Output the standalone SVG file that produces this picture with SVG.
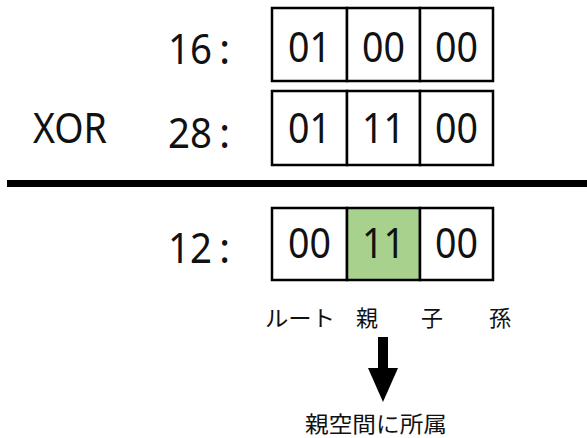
<svg xmlns="http://www.w3.org/2000/svg" width="587" height="438" viewBox="0 0 587 438">
<style>
.cell{fill:#fff;stroke:#000;stroke-width:2.5}
.g{fill:#A9D18E}
.num{font-family:"Noto Sans","Liberation Sans",sans-serif;font-size:42px;fill:#111;text-anchor:middle}
.lbl{font-family:"Noto Sans","Liberation Sans",sans-serif;font-size:42px;fill:#111}
.jp{font-family:"Noto Sans CJK JP",sans-serif;font-size:22px;fill:#111}
</style>
<rect width="587" height="438" fill="#fff"/>
<g id="row16">
<text class="lbl"><tspan x="168" y="64" textLength="44" lengthAdjust="spacingAndGlyphs">16</tspan><tspan x="219" y="64">:</tspan></text>
<rect class="cell" x="272" y="8" width="75" height="73"/>
<rect class="cell" x="347" y="8" width="73" height="73"/>
<rect class="cell" x="420" y="8" width="73" height="73"/>
<text class="num" x="309.5" y="62" textLength="43" lengthAdjust="spacingAndGlyphs">01</text>
<text class="num" x="383.5" y="62" textLength="43" lengthAdjust="spacingAndGlyphs">00</text>
<text class="num" x="456.5" y="62" textLength="43" lengthAdjust="spacingAndGlyphs">00</text>
</g>
<g id="row28">
<text class="lbl" x="33" y="143" textLength="74" lengthAdjust="spacingAndGlyphs" font-size="39">XOR</text>
<text class="lbl"><tspan x="168" y="148" textLength="44" lengthAdjust="spacingAndGlyphs">28</tspan><tspan x="219" y="148">:</tspan></text>
<rect class="cell" x="272" y="91" width="75" height="74"/>
<rect class="cell" x="347" y="91" width="73" height="74"/>
<rect class="cell" x="420" y="91" width="73" height="74"/>
<text class="num" x="309.5" y="143" textLength="43" lengthAdjust="spacingAndGlyphs">01</text>
<text class="num" x="383.5" y="143" textLength="43" lengthAdjust="spacingAndGlyphs">11</text>
<text class="num" x="456.5" y="143" textLength="43" lengthAdjust="spacingAndGlyphs">00</text>
</g>
<g id="connectors">
<rect x="7" y="180" width="580" height="7" fill="#000"/>
<rect x="378" y="337" width="10" height="32" fill="#000"/>
<polygon points="368,368 398,368 383,402" fill="#000"/>
</g>
<g id="row12">
<text class="lbl"><tspan x="168" y="263" textLength="44" lengthAdjust="spacingAndGlyphs">12</tspan><tspan x="219" y="263">:</tspan></text>
<rect class="cell" x="272" y="208" width="75" height="72"/>
<rect class="cell g" x="347" y="208" width="73" height="72"/>
<rect class="cell" x="420" y="208" width="73" height="72"/>
<text class="num" x="309.5" y="258" textLength="43" lengthAdjust="spacingAndGlyphs">00</text>
<text class="num" x="383.5" y="258" textLength="43" lengthAdjust="spacingAndGlyphs">11</text>
<text class="num" x="456.5" y="258" textLength="43" lengthAdjust="spacingAndGlyphs">00</text>
</g>
<g id="labels">
<text class="jp" x="265" y="326" textLength="70" lengthAdjust="spacingAndGlyphs">ルート</text>
<text class="jp" x="356" y="326">親</text>
<text class="jp" x="421" y="326">子</text>
<text class="jp" x="489" y="326">孫</text>
</g>
<g id="result">
<text class="jp" x="305" y="432" font-size="23" textLength="142" lengthAdjust="spacingAndGlyphs">親空間に所属</text>
</g>
</svg>
